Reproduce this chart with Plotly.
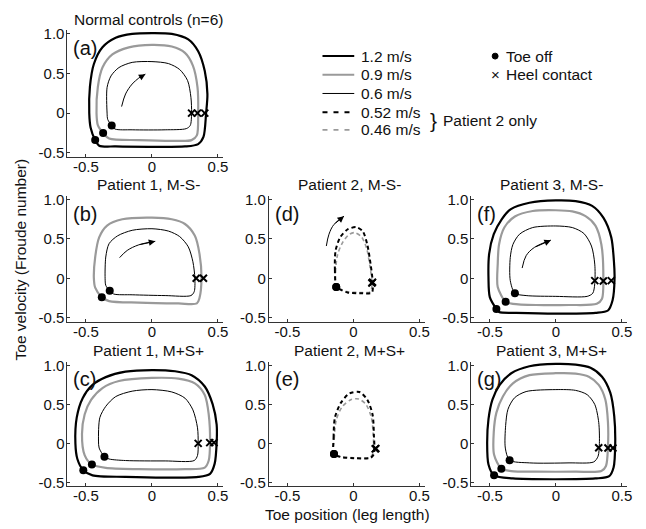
import plotly.graph_objects as go

# ---------------- data (toe position, toe velocity) ----------------
# Panel (a) Normal controls
A_FAST_X = [-0.43, -0.465, -0.475, -0.47, -0.44, -0.375, -0.275, -0.15, 0.0, 0.15, 0.275, 0.35, 0.40, 0.42, 0.41, 0.39, 0.35, 0.25, -0.025, -0.275, -0.40, -0.43]
A_FAST_Y = [-0.34, -0.18, 0.0, 0.33, 0.62, 0.83, 0.95, 1.0, 1.01, 1.0, 0.93, 0.78, 0.53, 0.24, 0.0, -0.30, -0.39, -0.42, -0.425, -0.42, -0.41, -0.34]
A_MID_X = [-0.37, -0.41, -0.42, -0.41, -0.375, -0.30, -0.175, 0.0, 0.15, 0.25, 0.31, 0.345, 0.35, 0.34, 0.30, 0.175, -0.10, -0.325, -0.37]
A_MID_Y = [-0.25, -0.15, 0.0, 0.33, 0.575, 0.74, 0.83, 0.86, 0.84, 0.76, 0.60, 0.325, 0.0, -0.28, -0.34, -0.35, -0.34, -0.32, -0.25]
A_SLOW_X = [-0.305, -0.335, -0.34, -0.34, -0.31, -0.25, -0.15, 0.0, 0.125, 0.21, 0.27, 0.295, 0.30, 0.29, 0.26, 0.10, -0.15, -0.28, -0.305]
A_SLOW_Y = [-0.155, -0.08, 0.0, 0.325, 0.47, 0.575, 0.64, 0.65, 0.625, 0.55, 0.41, 0.20, 0.0, -0.155, -0.195, -0.21, -0.21, -0.20, -0.155]
A_TOE_X = [-0.43, -0.37, -0.305]
A_TOE_Y = [-0.34, -0.25, -0.155]
A_HEEL_X = [0.40, 0.345, 0.30]
A_HEEL_Y = [0.0, 0.0, 0.0]
A_ARROW_X = [-0.23, -0.20, -0.15, -0.10, -0.05]
A_ARROW_Y = [0.083, 0.242, 0.367, 0.442, 0.492]

# Panel (b) Patient 1, M-S-
B_MID_X = [-0.38, -0.43, -0.44, -0.43, -0.40, -0.34, -0.225, 0.0, 0.15, 0.25, 0.325, 0.36, 0.375, 0.36, 0.34, 0.20, -0.10, -0.325, -0.38]
B_MID_Y = [-0.24, -0.12, 0.0, 0.27, 0.52, 0.67, 0.75, 0.77, 0.75, 0.69, 0.54, 0.31, 0.0, -0.25, -0.32, -0.32, -0.31, -0.29, -0.24]
B_SLOW_X = [-0.32, -0.35, -0.355, -0.35, -0.325, -0.26, -0.15, 0.0, 0.125, 0.21, 0.275, 0.31, 0.325, 0.32, 0.295, 0.10, -0.15, -0.29, -0.32]
B_SLOW_Y = [-0.16, -0.09, 0.0, 0.27, 0.44, 0.54, 0.61, 0.63, 0.60, 0.53, 0.40, 0.21, 0.0, -0.17, -0.22, -0.22, -0.21, -0.20, -0.16]
B_TOE_X = [-0.38, -0.32]
B_TOE_Y = [-0.24, -0.16]
B_HEEL_X = [0.39, 0.335]
B_HEEL_Y = [0.0, 0.0]
B_ARROW_X = [-0.245, -0.1875, -0.10, 0.025]
B_ARROW_Y = [0.2625, 0.354, 0.425, 0.47]

# Panel (c) Patient 1, M+S+
C_FAST_X = [-0.52, -0.565, -0.58, -0.57, -0.525, -0.45, -0.35, -0.20, 0.0, 0.175, 0.30, 0.40, 0.46, 0.49, 0.49, 0.475, 0.44, 0.35, 0.10, -0.20, -0.45, -0.52]
C_FAST_Y = [-0.345, -0.2, 0.0, 0.33, 0.58, 0.75, 0.85, 0.92, 0.94, 0.925, 0.875, 0.73, 0.50, 0.24, 0.01, -0.26, -0.39, -0.43, -0.44, -0.43, -0.41, -0.345]
C_MID_X = [-0.455, -0.51, -0.53, -0.51, -0.46, -0.375, -0.25, 0.0, 0.20, 0.325, 0.40, 0.43, 0.44, 0.43, 0.40, 0.25, -0.10, -0.35, -0.455]
C_MID_Y = [-0.27, -0.15, 0.12, 0.37, 0.56, 0.71, 0.80, 0.84, 0.83, 0.77, 0.62, 0.37, 0.01, -0.22, -0.31, -0.33, -0.33, -0.315, -0.27]
C_SLOW_X = [-0.36, -0.40, -0.405, -0.395, -0.35, -0.275, -0.15, 0.0, 0.15, 0.25, 0.31, 0.345, 0.35, 0.345, 0.32, 0.10, -0.20, -0.325, -0.36]
C_SLOW_Y = [-0.17, -0.06, 0.03, 0.33, 0.475, 0.60, 0.67, 0.69, 0.66, 0.58, 0.43, 0.20, 0.0, -0.155, -0.22, -0.225, -0.22, -0.20, -0.17]
C_TOE_X = [-0.52, -0.455, -0.36]
C_TOE_Y = [-0.345, -0.27, -0.17]
C_HEEL_X = [0.47, 0.4375, 0.35]
C_HEEL_Y = [0.01, 0.01, 0.0]

# Panel (d) Patient 2, M-S-
D_052_X = [-0.13, -0.14, -0.135, -0.10, -0.045, 0.02, 0.07, 0.105, 0.13, 0.145, 0.14, 0.055, -0.045, -0.11, -0.13]
D_052_Y = [-0.11, 0.10, 0.35, 0.52, 0.62, 0.65, 0.60, 0.43, 0.18, -0.03, -0.18, -0.19, -0.18, -0.135, -0.11]
D_046_X = [-0.13, -0.135, -0.12, -0.08, -0.03, 0.01, 0.06, 0.10, 0.125, 0.14, 0.13, 0.05, -0.05, -0.11, -0.13]
D_046_Y = [-0.11, 0.08, 0.30, 0.46, 0.56, 0.58, 0.53, 0.38, 0.15, -0.04, -0.17, -0.18, -0.17, -0.13, -0.11]
D_TOE_X = [-0.13, -0.13]
D_TOE_Y = [-0.11, -0.11]
D_HEEL_X = [0.145, 0.14]
D_HEEL_Y = [-0.05, -0.06]
D_ARROW_X = [-0.205, -0.185, -0.147, -0.071]
D_ARROW_Y = [0.41, 0.56, 0.685, 0.79]

# Panel (e) Patient 2, M+S+
E_052_X = [-0.147, -0.15, -0.14, -0.095, -0.03, 0.045, 0.105, 0.145, 0.155, 0.155, 0.13, 0.005, -0.095, -0.147]
E_052_Y = [-0.135, 0.075, 0.33, 0.52, 0.64, 0.66, 0.56, 0.37, 0.12, -0.135, -0.185, -0.19, -0.175, -0.135]
E_046_X = [-0.147, -0.145, -0.13, -0.085, -0.02, 0.04, 0.095, 0.135, 0.15, 0.15, 0.125, 0.005, -0.095, -0.147]
E_046_Y = [-0.135, 0.06, 0.30, 0.47, 0.56, 0.57, 0.50, 0.34, 0.11, -0.12, -0.18, -0.185, -0.17, -0.135]
E_TOE_X = [-0.147, -0.147]
E_TOE_Y = [-0.135, -0.135]
E_HEEL_X = [0.17, 0.165]
E_HEEL_Y = [-0.065, -0.07]

# Panel (f) Patient 3, M-S-
F_FAST_X = [-0.45, -0.50, -0.51, -0.505, -0.47, -0.41, -0.34, -0.20, 0.0, 0.15, 0.275, 0.36, 0.42, 0.44, 0.445, 0.43, 0.395, 0.30, 0.0, -0.30, -0.43, -0.45]
F_FAST_Y = [-0.39, -0.24, 0.0, 0.31, 0.56, 0.75, 0.88, 0.96, 0.99, 0.98, 0.92, 0.77, 0.52, 0.22, 0.0, -0.28, -0.41, -0.44, -0.45, -0.44, -0.43, -0.39]
F_MID_X = [-0.38, -0.44, -0.44, -0.43, -0.39, -0.31, -0.175, 0.0, 0.125, 0.225, 0.30, 0.345, 0.36, 0.35, 0.31, 0.10, -0.15, -0.325, -0.38]
F_MID_Y = [-0.30, -0.11, 0.18, 0.43, 0.645, 0.785, 0.855, 0.865, 0.85, 0.79, 0.67, 0.43, 0.0, -0.26, -0.325, -0.34, -0.34, -0.325, -0.30]
F_SLOW_X = [-0.31, -0.345, -0.345, -0.325, -0.275, -0.175, 0.0, 0.125, 0.2125, 0.27, 0.295, 0.295, 0.28, 0.2375, 0.0, -0.225, -0.31]
F_SLOW_Y = [-0.19, -0.03, 0.265, 0.43, 0.56, 0.645, 0.665, 0.645, 0.57, 0.41, 0.18, -0.07, -0.19, -0.23, -0.23, -0.22, -0.19]
F_TOE_X = [-0.45, -0.38, -0.31]
F_TOE_Y = [-0.39, -0.30, -0.19]
F_HEEL_X = [0.42, 0.36, 0.295]
F_HEEL_Y = [-0.03, -0.035, -0.03]
F_ARROW_X = [-0.255, -0.225, -0.1625, -0.0375]
F_ARROW_Y = [0.13, 0.287, 0.392, 0.485]

# Panel (g) Patient 3, M+S+
G_FAST_X = [-0.4675, -0.51, -0.52, -0.51, -0.48, -0.425, -0.3375, -0.20, 0.0, 0.15, 0.2625, 0.35, 0.4125, 0.4425, 0.45, 0.4375, 0.405, 0.30, 0.0, -0.325, -0.4675]
G_FAST_Y = [-0.41, -0.27, 0.0, 0.31, 0.56, 0.75, 0.90, 0.99, 1.02, 1.01, 0.97, 0.855, 0.65, 0.35, 0.0, -0.31, -0.42, -0.45, -0.46, -0.45, -0.41]
G_MID_X = [-0.4125, -0.4675, -0.47, -0.45, -0.40, -0.325, -0.20, 0.0, 0.15, 0.25, 0.325, 0.375, 0.395, 0.395, 0.38, 0.345, 0.15, -0.15, -0.3375, -0.4125]
G_MID_Y = [-0.325, -0.145, 0.145, 0.395, 0.605, 0.77, 0.875, 0.90, 0.895, 0.855, 0.75, 0.5625, 0.27, -0.04, -0.29, -0.355, -0.3625, -0.3625, -0.355, -0.325]
G_SLOW_X = [-0.35, -0.3825, -0.38, -0.3625, -0.3125, -0.225, 0.0, 0.15, 0.2375, 0.295, 0.325, 0.33, 0.32, 0.2875, 0.10, -0.20, -0.35]
G_SLOW_Y = [-0.215, -0.06, 0.23, 0.4375, 0.585, 0.665, 0.69, 0.68, 0.625, 0.50, 0.27, 0.0, -0.165, -0.2375, -0.25, -0.25, -0.215]
G_TOE_X = [-0.4675, -0.4125, -0.35]
G_TOE_Y = [-0.41, -0.325, -0.215]
G_HEEL_X = [0.4325, 0.395, 0.325]
G_HEEL_Y = [-0.06, -0.06, -0.055]

X_TICKS = [-0.5, 0, 0.5]
X_TICKTEXT = ["-0.5", "0", "0.5"]
Y_TICKS = [-0.5, 0, 0.5, 1.0]
Y_TICKTEXT = ["-0.5", "0", "0.5", "1.0"]
X_RANGE = [-0.64, 0.54]
Y_RANGE = [-0.55, 1.05]

SPEED_LABELS = ["1.2 m/s", "0.9 m/s", "0.6 m/s", "0.52 m/s", "0.46 m/s"]
TITLES = {"a": "Normal controls (n=6)", "b": "Patient 1, M-S-", "c": "Patient 1, M+S+",
          "d": "Patient 2, M-S-", "e": "Patient 2, M+S+", "f": "Patient 3, M-S-", "g": "Patient 3, M+S+"}

# ---------------- styling / layout ----------------
W, H = 646, 529
FONT = "Liberation Sans, Arial, sans-serif"
GRAY = "#9a9a9a"
STYLE = {
    "fast": dict(color="black", width=2.2),
    "mid": dict(color=GRAY, width=2.2),
    "slow": dict(color="black", width=1.0),
    "052": dict(color="black", width=2.0, dash="4px,3px"),
    "046": dict(color=GRAY, width=1.6, dash="4px,3px"),
}
COLS = {1: (68, 225), 2: (271, 428), 3: (475, 632)}
ROWS = {1: (25.3, 154.4), 2: (194, 322), 3: (362.7, 489.6)}

panels = [
    ("a", 1, 1, [("fast", A_FAST_X, A_FAST_Y), ("mid", A_MID_X, A_MID_Y), ("slow", A_SLOW_X, A_SLOW_Y)],
     (A_TOE_X, A_TOE_Y), (A_HEEL_X, A_HEEL_Y), (A_ARROW_X, A_ARROW_Y)),
    ("b", 2, 1, [("mid", B_MID_X, B_MID_Y), ("slow", B_SLOW_X, B_SLOW_Y)],
     (B_TOE_X, B_TOE_Y), (B_HEEL_X, B_HEEL_Y), (B_ARROW_X, B_ARROW_Y)),
    ("c", 3, 1, [("fast", C_FAST_X, C_FAST_Y), ("mid", C_MID_X, C_MID_Y), ("slow", C_SLOW_X, C_SLOW_Y)],
     (C_TOE_X, C_TOE_Y), (C_HEEL_X, C_HEEL_Y), None),
    ("d", 2, 2, [("046", D_046_X, D_046_Y), ("052", D_052_X, D_052_Y)],
     (D_TOE_X, D_TOE_Y), (D_HEEL_X, D_HEEL_Y), (D_ARROW_X, D_ARROW_Y)),
    ("e", 3, 2, [("046", E_046_X, E_046_Y), ("052", E_052_X, E_052_Y)],
     (E_TOE_X, E_TOE_Y), (E_HEEL_X, E_HEEL_Y), None),
    ("f", 2, 3, [("fast", F_FAST_X, F_FAST_Y), ("mid", F_MID_X, F_MID_Y), ("slow", F_SLOW_X, F_SLOW_Y)],
     (F_TOE_X, F_TOE_Y), (F_HEEL_X, F_HEEL_Y), (F_ARROW_X, F_ARROW_Y)),
    ("g", 3, 3, [("fast", G_FAST_X, G_FAST_Y), ("mid", G_MID_X, G_MID_Y), ("slow", G_SLOW_X, G_SLOW_Y)],
     (G_TOE_X, G_TOE_Y), (G_HEEL_X, G_HEEL_Y), None),
]

fig = go.Figure()
layout = dict(width=W, height=H, margin=dict(l=0, r=0, t=0, b=0),
              paper_bgcolor="white", plot_bgcolor="white", showlegend=False,
              font=dict(family=FONT, size=15, color="#111"))
annotations = []
shapes = []

def pxf(x):
    return x / W

def pyf(y):
    return 1 - y / H

for i, (key, row, col, curves, toe, heel, arrow) in enumerate(panels, start=1):
    xa = "x" if i == 1 else f"x{i}"
    ya = "y" if i == 1 else f"y{i}"
    xl = "xaxis" if i == 1 else f"xaxis{i}"
    yl = "yaxis" if i == 1 else f"yaxis{i}"
    c0, c1 = COLS[col]
    r0, r1 = ROWS[row]
    axis_common = dict(showline=True, linecolor="#333", linewidth=1, mirror=False,
                       ticks="inside", ticklen=3, tickcolor="#333", showgrid=False,
                       zeroline=False, fixedrange=True,
                       tickfont=dict(family=FONT, size=15, color="#111"))
    layout[xl] = dict(domain=[pxf(c0), pxf(c1)], range=X_RANGE, anchor=ya,
                      tickvals=X_TICKS, ticktext=X_TICKTEXT, ticklabelstandoff=-4,
                      **axis_common)
    layout[yl] = dict(domain=[pyf(r1), pyf(r0)], range=Y_RANGE, anchor=xa,
                      tickvals=Y_TICKS, ticktext=Y_TICKTEXT, ticklabelstandoff=-1,
                      **axis_common)
    for style, xs, ys in curves:
        fig.add_trace(go.Scatter(x=xs, y=ys, mode="lines", xaxis=xa, yaxis=ya,
                                 line=dict(shape="spline", smoothing=0.8, **STYLE[style]),
                                 hoverinfo="skip"))
    if arrow is not None:
        ax_, ay_ = arrow
        fig.add_trace(go.Scatter(x=ax_, y=ay_, mode="lines", xaxis=xa, yaxis=ya,
                                 line=dict(color="black", width=1, shape="spline"),
                                 hoverinfo="skip"))
        annotations.append(dict(x=ax_[-1], y=ay_[-1], ax=ax_[-2], ay=ay_[-2],
                                xref=xa, yref=ya, axref=xa, ayref=ya, text="",
                                showarrow=True, arrowhead=2, arrowsize=1.3,
                                arrowwidth=1, arrowcolor="black"))
    fig.add_trace(go.Scatter(x=toe[0], y=toe[1], mode="markers", xaxis=xa, yaxis=ya,
                             marker=dict(symbol="circle", size=8, color="black"),
                             hoverinfo="skip"))
    fig.add_trace(go.Scatter(x=heel[0], y=heel[1], mode="markers", xaxis=xa, yaxis=ya,
                             marker=dict(symbol="x-thin", size=7,
                                         line=dict(width=2, color="black")),
                             hoverinfo="skip"))
    # panel label
    annotations.append(dict(x=-0.61, y=0.82, xref=xa, yref=ya, text=f"({key})",
                            showarrow=False, xanchor="left", yanchor="middle",
                            font=dict(size=20, family=FONT, color="#111")))
    # panel title
    annotations.append(dict(x=-0.03, y=pyf(r0 - 11), xref=xa, yref="paper",
                            text=TITLES[key], showarrow=False, xanchor="center",
                            yanchor="middle", font=dict(size=15.5, family=FONT, color="#111")))

# axis titles
annotations.append(dict(x=pxf(350), y=pyf(518), xref="paper", yref="paper",
                        text="Toe position (leg length)", showarrow=False,
                        xanchor="center", yanchor="middle",
                        font=dict(size=15.5, family=FONT, color="#111")))
annotations.append(dict(x=pxf(21), y=pyf(259), xref="paper", yref="paper",
                        text="Toe velocity (Froude number)", showarrow=False, textangle=-90,
                        xanchor="center", yanchor="middle",
                        font=dict(size=15.5, family=FONT, color="#111")))

# legend (drawn manually)
leg_y = [52, 71, 90, 109, 127]
leg_styles = ["fast", "mid", "slow", "052", "046"]
for lab, st, yy in zip(SPEED_LABELS, leg_styles, leg_y):
    s = STYLE[st]
    shapes.append(dict(type="line", xref="paper", yref="paper",
                       x0=pxf(325), x1=pxf(357), y0=pyf(yy), y1=pyf(yy),
                       line=dict(color=s["color"], width=s["width"] if st not in ("fast", "mid") else 2,
                                 dash="5px,6px" if "dash" in s else "solid")))
    annotations.append(dict(x=pxf(362), y=pyf(yy), xref="paper", yref="paper", text=lab,
                            showarrow=False, xanchor="left", yanchor="middle",
                            font=dict(size=15.5, family=FONT, color="#111")))
annotations.append(dict(x=pxf(431), y=pyf(118), xref="paper", yref="paper", text="}",
                        showarrow=False, xanchor="left", yanchor="middle",
                        font=dict(size=21, family=FONT, color="#111")))
annotations.append(dict(x=pxf(444), y=pyf(118), xref="paper", yref="paper", text="Patient 2 only",
                        showarrow=False, xanchor="left", yanchor="middle",
                        font=dict(size=15.5, family=FONT, color="#111")))
shapes.append(dict(type="circle", xref="paper", yref="paper",
                   x0=pxf(496), x1=pxf(502), y0=pyf(55), y1=pyf(49),
                   fillcolor="black", line=dict(color="black", width=1)))
annotations.append(dict(x=pxf(499), y=pyf(71), xref="paper", yref="paper", text="×",
                        showarrow=False, xanchor="center", yanchor="middle",
                        font=dict(size=15, family=FONT, color="#111")))
annotations.append(dict(x=pxf(508), y=pyf(52), xref="paper", yref="paper", text="Toe off",
                        showarrow=False, xanchor="left", yanchor="middle",
                        font=dict(size=15.5, family=FONT, color="#111")))
annotations.append(dict(x=pxf(508), y=pyf(71), xref="paper", yref="paper", text="Heel contact",
                        showarrow=False, xanchor="left", yanchor="middle",
                        font=dict(size=15.5, family=FONT, color="#111")))

layout["annotations"] = annotations
layout["shapes"] = shapes
fig.update_layout(**layout)
fig.write_html("out.html", config={"displayModeBar": False},
               post_script="document.body.style.margin='0';")
